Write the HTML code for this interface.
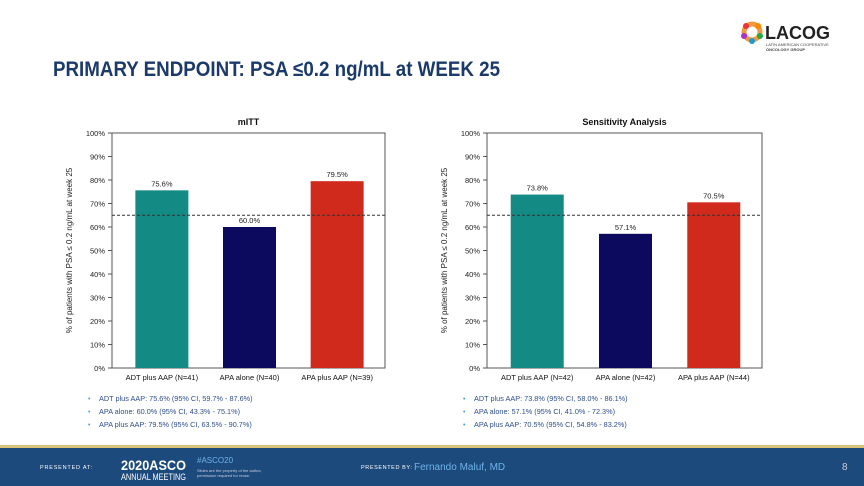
<!DOCTYPE html>
<html><head><meta charset="utf-8"><style>
body{margin:0;width:864px;height:486px;overflow:hidden;background:#fff;font-family:"Liberation Sans",sans-serif}
svg{display:block}
</style></head><body>
<svg width="864" height="486" viewBox="0 0 864 486">
<text x="53" y="76" font-size="21" font-weight="bold" fill="#1b3a6b" textLength="447" lengthAdjust="spacingAndGlyphs">PRIMARY ENDPOINT: PSA ≤0.2 ng/mL at WEEK 25</text>
<g>
<circle cx="752" cy="32" r="8" fill="none" stroke="#e94" stroke-width="5"/>
<circle cx="746" cy="26" r="3" fill="#e33"/><circle cx="758" cy="26" r="3" fill="#f80"/><circle cx="760" cy="36" r="3" fill="#2a4"/><circle cx="752" cy="41" r="3" fill="#29c"/><circle cx="744" cy="36" r="3" fill="#a3c"/>
<text x="765" y="39" font-size="18" font-weight="bold" fill="#222">LACOG</text>
<text x="766" y="46" font-size="4" fill="#444">LATIN AMERICAN COOPERATIVE</text>
<text x="766" y="51" font-size="4" font-weight="bold" fill="#444">ONCOLOGY GROUP</text>
</g>
<g id="c1"></g><g id="c2"></g>
<g>
<rect x="0" y="445" width="864" height="3" fill="#d8c27a"/>
<rect x="0" y="448" width="864" height="38" fill="#1c4a7d"/>
<text x="40" y="469" font-size="5.5" fill="#fff" letter-spacing="0.8">PRESENTED AT:</text>
<text x="121" y="470" font-size="14" font-weight="bold" fill="#fff" textLength="65" lengthAdjust="spacingAndGlyphs">2020ASCO</text>
<text x="121" y="480" font-size="9" fill="#fff" textLength="65" lengthAdjust="spacingAndGlyphs">ANNUAL MEETING</text>
<text x="197" y="463" font-size="8" fill="#6fb3e8">#ASCO20</text>
<text x="197" y="472" font-size="4" fill="#ccd">Slides are the property of the author,</text>
<text x="197" y="477" font-size="4" fill="#ccd">permission required for reuse.</text>
<text x="361" y="469" font-size="5.5" fill="#fff" letter-spacing="0.6">PRESENTED BY:</text>
<text x="414" y="470" font-size="10" fill="#6fb3e8">Fernando Maluf, MD</text>
<text x="842" y="470" font-size="10" fill="#ccd">8</text>
</g>
</svg>
<script>
const categories1=["ADT plus AAP (N=41)","APA alone (N=40)","APA plus AAP (N=39)"];
const values1=[75.6,60.0,79.5];
const labels1=["75.6%","60.0%","79.5%"];
const categories2=["ADT plus AAP (N=42)","APA alone (N=42)","APA plus AAP (N=44)"];
const values2=[73.8,57.1,70.5];
const labels2=["73.8%","57.1%","70.5%"];
const ticks=[0,10,20,30,40,50,60,70,80,90,100];
const threshold=65;
const colors=["#138a84","#0b0a5e","#cf2a1c"];
const notes1=["ADT plus AAP: 75.6% (95% CI, 59.7% - 87.6%)","APA alone: 60.0% (95% CI, 43.3% - 75.1%)","APA plus AAP: 79.5% (95% CI, 63.5% - 90.7%)"];
const notes2=["ADT plus AAP: 73.8% (95% CI, 58.0% - 86.1%)","APA alone: 57.1% (95% CI, 41.0% - 72.3%)","APA plus AAP: 70.5% (95% CI, 54.8% - 83.2%)"];
const NS="http://www.w3.org/2000/svg";
function mk(p,t,a){const e=document.createElementNS(NS,t);for(const k in a)e.setAttribute(k,a[k]);p.appendChild(e);return e;}
function chart(g,x0,x1,title,cats,vals,labs,notes){
 const y0=368,y1=133;
 const ys=v=>y0-(v/100)*(y0-y1);
 const step=(x1-x0)*0.321;
 const xc=(x0+x1)/2+1;
 const xs=i=>xc+(i-1)*step;
 const t=mk(g,'text',{x:(x0+x1)/2,y:125,'font-size':9,'font-weight':'bold','text-anchor':'middle',fill:'#111'});t.textContent=title;
 
 
 const f=mk(g,'rect',{x:x0,y:y1,width:x1-x0,height:y0-y1,fill:'none',stroke:'#555','stroke-width':1});
 
 
 ticks.forEach(v=>{
  mk(g,'line',{x1:x0-4,x2:x0,y1:ys(v),y2:ys(v),stroke:'#555'});
  const l=mk(g,'text',{x:x0-7,y:ys(v)+3,'font-size':7.5,'text-anchor':'end',fill:'#222'});l.textContent=v+'%';
  
  
 });
 const yt=mk(g,'text',{x:0,y:0,'font-size':8,'text-anchor':'middle',fill:'#222',transform:`translate(${x0-40},${(y0+y1)/2}) rotate(-90)`});
 yt.textContent='% of patients with PSA ≤ 0.2 ng/mL at week 25';
 
 
 vals.forEach((v,i)=>{
  const b=mk(g,'rect',{x:xs(i)-26.5,y:ys(v),width:53,height:y0-ys(v),fill:colors[i]});
  
  
  const l=mk(g,'text',{x:xs(i),y:ys(v)-4,'font-size':7.5,'text-anchor':'middle',fill:'#222'});l.textContent=labs[i];
  
  
  const c=mk(g,'text',{x:xs(i),y:y0+12,'font-size':7.5,'text-anchor':'middle',fill:'#111'});c.textContent=cats[i];
  
  
 });
 const d=mk(g,'line',{x1:x0,x2:x1,y1:ys(threshold),y2:ys(threshold),stroke:'#333','stroke-dasharray':'3,2','stroke-width':1});
 
 
 notes.forEach((n,i)=>{
  const b=mk(g,'text',{x:x0-24,y:401+i*13,'font-size':7,fill:'#4aa0d8'});b.textContent='•';
  const tx=mk(g,'text',{x:x0-13,y:401+i*13,'font-size':7.3,fill:'#2e4e8a'});tx.textContent=n;
  
  
 });
}
const g1=document.getElementById('c1');


const g2=document.getElementById('c2');


chart(g1,112,385,'mITT',categories1,values1,labels1,notes1);
chart(g2,487,762,'Sensitivity Analysis',categories2,values2,labels2,notes2);
</script>
</body></html>
